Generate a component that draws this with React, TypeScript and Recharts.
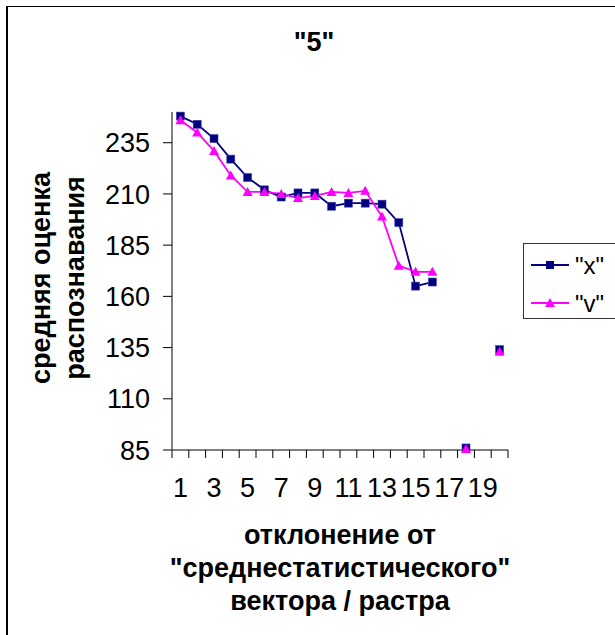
import React from 'react';
import { LineChart, Line, XAxis, YAxis, Legend } from 'recharts';

const categories = [1, 2, 3, 4, 5, 6, 7, 8, 9, 10, 11, 12, 13, 14, 15, 16, 17, 18, 19, 20];
const seriesX: (number | null)[] = [248, 244, 237, 227, 218, 212, 208.5, 210.5, 210.5, 204, 205.5, 205.5, 205, 196, 165, 167, null, 86, null, 134];
const seriesV: (number | null)[] = [246, 240, 231, 219, 211, 211, 210, 208, 209, 211, 210.5, 211.5, 199, 175, 172, 172, null, 85.5, null, 133];
const yTicks = [85, 110, 135, 160, 185, 210, 235];
const xLabelTicks = [1, 3, 5, 7, 9, 11, 13, 15, 17, 19];
const xBoundaryTicks = [0.5, 1.5, 2.5, 3.5, 4.5, 5.5, 6.5, 7.5, 8.5, 9.5, 10.5, 11.5, 12.5, 13.5, 14.5, 15.5, 16.5, 17.5, 18.5, 19.5, 20.5];
const seriesNames = ['"x"', '"v"'];
const chartTitle = '"5"';
const yTitle = ['средняя оценка', 'распознавания'];
const xTitle = ['отклонение от', '"среднестатистического"', 'вектора / растра'];

const data = categories.map((c, i) => ({ cat: c, x: seriesX[i], v: seriesV[i] }));

const FONT = '"Liberation Sans", Arial, sans-serif';
const NAVY = '#000080';
const MAGENTA = '#FF00FF';

const SquareDot = (props: any) => {
  const { cx, cy, value, index } = props;
  if (cx == null || cy == null || value == null) return <g key={`s${index}`} />;
  return <rect key={`s${index}`} x={cx - 4} y={cy - 4} width={8} height={8} fill={NAVY} stroke="#4040a8" strokeWidth={0.6} />;
};

const TriangleDot = (props: any) => {
  const { cx, cy, value, index } = props;
  if (cx == null || cy == null || value == null) return <g key={`t${index}`} />;
  return <polygon key={`t${index}`} points={`${cx},${cy - 5} ${cx - 5},${cy + 4} ${cx + 5},${cy + 4}`} fill={MAGENTA} />;
};

const LegendContent = () => (
  <svg width={100} height={76} style={{ display: 'block' }}>
    <rect x={0.5} y={0.5} width={99} height={75} fill="#fff" stroke="#333" strokeWidth={1} />
    <line x1={8} x2={46} y1={22} y2={22} stroke={NAVY} strokeWidth={1.8} />
    <rect x={23} y={18} width={8} height={8} fill={NAVY} />
    <text x={52} y={31} fontFamily={FONT} fontSize={24} fill="#000">{seriesNames[0]}</text>
    <line x1={8} x2={46} y1={60} y2={60} stroke={MAGENTA} strokeWidth={1.8} />
    <polygon points="27,55 22,64 32,64" fill={MAGENTA} />
    <text x={52} y={69} fontFamily={FONT} fontSize={24} fill="#000">{seriesNames[1]}</text>
  </svg>
);

export default function App() {
  return (
    <div style={{ position: 'absolute', left: 0, top: 0, width: 615, height: 635, overflow: 'hidden', background: '#fff', fontFamily: FONT }}>
      <div style={{ position: 'absolute', left: 6, top: 6, width: 700, height: 700, borderTop: '1px solid #000', borderLeft: '2px solid #000', boxSizing: 'border-box' }} />
      <div style={{ position: 'absolute', left: 214, top: 26, width: 200, textAlign: 'center', fontSize: 27, fontWeight: 'bold', lineHeight: '32px' }}>{chartTitle}</div>
      <div style={{ position: 'absolute', left: 58 - 170, top: 278 - 34, width: 340, height: 68, transform: 'rotate(-90deg)', transformOrigin: '170px 34px', textAlign: 'center', fontSize: 27, fontWeight: 'bold', lineHeight: '34px', whiteSpace: 'nowrap' }}>
        <div>{yTitle[0]}</div>
        <div>{yTitle[1]}</div>
      </div>
      <div style={{ position: 'absolute', left: 140, top: 519, width: 400, textAlign: 'center', fontSize: 27, fontWeight: 'bold', lineHeight: '33px', whiteSpace: 'nowrap' }}>
        {xTitle.map((t) => <div key={t}>{t}</div>)}
      </div>
      <div style={{ position: 'absolute', left: 0, top: 0 }}>
        <LineChart width={615} height={635} data={data} margin={{ top: 112, right: 107, bottom: 135, left: 112 }}>
          <XAxis
            xAxisId="a"
            dataKey="cat"
            type="number"
            domain={[0.5, 20.5]}
            ticks={xBoundaryTicks}
            interval={0}
            height={10}
            tick={() => <g />}
            tickSize={8}
            axisLine={{ stroke: '#808080', strokeWidth: 2 }}
            tickLine={{ stroke: '#000', strokeWidth: 1 }}
          />
          <XAxis
            xAxisId="lbl"
            dataKey="cat"
            type="number"
            domain={[0.5, 20.5]}
            ticks={xLabelTicks}
            interval={0}
            height={40}
            axisLine={false}
            tickLine={false}
            tickSize={0}
            tickMargin={18}
            tick={{ fill: '#000', fontSize: 27, fontFamily: FONT }}
          />
          <YAxis
            type="number"
            domain={[85, 250]}
            ticks={yTicks}
            interval={0}
            width={60}
            tickSize={9}
            tickMargin={13}
            axisLine={{ stroke: '#808080', strokeWidth: 2 }}
            tickLine={{ stroke: '#000', strokeWidth: 1 }}
            tick={{ fill: '#000', fontSize: 27, fontFamily: FONT }}
          />
          <Legend
            layout="vertical"
            align="center"
            verticalAlign="middle"
            wrapperStyle={{ left: 523, top: 243, width: 100, height: 76 }}
            content={<LegendContent />}
          />
          <Line xAxisId="a" type="linear" dataKey="x" name={seriesNames[0]} stroke={NAVY} strokeWidth={1.8} dot={<SquareDot />} activeDot={false} connectNulls={false} isAnimationActive={false} />
          <Line xAxisId="a" type="linear" dataKey="v" name={seriesNames[1]} stroke={MAGENTA} strokeWidth={1.8} dot={<TriangleDot />} activeDot={false} connectNulls={false} isAnimationActive={false} />
        </LineChart>
      </div>
    </div>
  );
}
